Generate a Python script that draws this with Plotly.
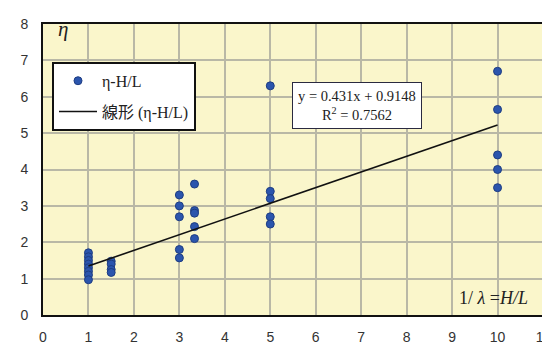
import plotly.graph_objects as go

# Data
x_vals = [1, 1, 1, 1, 1, 1, 1, 1,
          1.5, 1.5, 1.5, 1.5,
          3, 3, 3, 3, 3,
          10/3, 10/3, 10/3, 10/3, 10/3,
          5, 5, 5, 5, 5,
          10, 10, 10, 10, 10]
eta_vals = [1.71, 1.6, 1.5, 1.4, 1.3, 1.2, 1.1, 0.97,
            1.48, 1.4, 1.25, 1.17,
            3.3, 3.0, 2.7, 1.8, 1.57,
            3.6, 2.87, 2.8, 2.43, 2.1,
            6.3, 3.4, 3.2, 2.7, 2.5,
            6.7, 5.65, 4.4, 4.0, 3.5]
slope = 0.431
intercept = 0.9148
r2 = 0.7562
fit_x = [1, 10]
fit_y = [slope * v + intercept for v in fit_x]
x_ticks = list(range(0, 12))
y_ticks = list(range(0, 9))

serif = "Liberation Serif, Times New Roman, Noto Sans CJK JP, serif"
sans = "Liberation Sans, Arial, sans-serif"

fig = go.Figure()
fig.add_trace(go.Scatter(
    x=x_vals, y=eta_vals, mode="markers", name="η-H/L",
    legendgroup="a",
    marker=dict(size=8, color="#2B55AD", line=dict(color="#1E3D82", width=1)),
))
fig.add_trace(go.Scatter(
    x=fit_x, y=fit_y, mode="lines", name="線形 (η-H/L)",
    legendgroup="b",
    line=dict(color="#111111", width=1.6),
))

fig.add_annotation(
    x=6.9, y=5.75, xref="x", yref="y",
    text=f"y = {slope}x + {intercept}<br>R<sup>2</sup> = {r2}",
    showarrow=False, align="center",
    font=dict(family=serif, size=14.5, color="#222"),
    bgcolor="white", bordercolor="#2a2a40", borderwidth=1, borderpad=5,
)
fig.add_annotation(
    x=0.45, y=7.85, xref="x", yref="y", text="<i>η</i>", showarrow=False,
    font=dict(family=serif, size=21, color="#222"),
)
fig.add_annotation(
    x=9.91, y=0.48, xref="x", yref="y", text="1/ <i>λ</i> =<i>H/L</i>", showarrow=False,
    font=dict(family=serif, size=18, color="#222"),
)

fig.update_layout(
    width=550, height=345,
    margin=dict(l=35, r=8, t=15, b=29),
    paper_bgcolor="white", plot_bgcolor="#FAF6CB",
    showlegend=True,
    legend=dict(
        x=0.018, y=0.87, xanchor="left", yanchor="top",
        bgcolor="white", bordercolor="#111", borderwidth=2,
        font=dict(family=serif, size=16, color="#222"),
        tracegroupgap=7, traceorder="grouped", itemwidth=38,
    ),
    xaxis=dict(
        range=[0, 11], tickvals=x_ticks, showgrid=True, gridcolor="#B9B8A6", gridwidth=2,
        zeroline=False, showline=True, linecolor="#111", linewidth=2, mirror=True,
        ticks="", tickfont=dict(family=sans, size=14, color="#333"), ticklabelstandoff=8,
    ),
    yaxis=dict(
        range=[0, 8], tickvals=y_ticks, showgrid=True, gridcolor="#B9B8A6", gridwidth=2,
        zeroline=False, showline=True, linecolor="#111", linewidth=2, mirror=True,
        ticks="", tickfont=dict(family=sans, size=14, color="#333"), ticklabelstandoff=10,
    ),
)

fig.write_html("out.html")
